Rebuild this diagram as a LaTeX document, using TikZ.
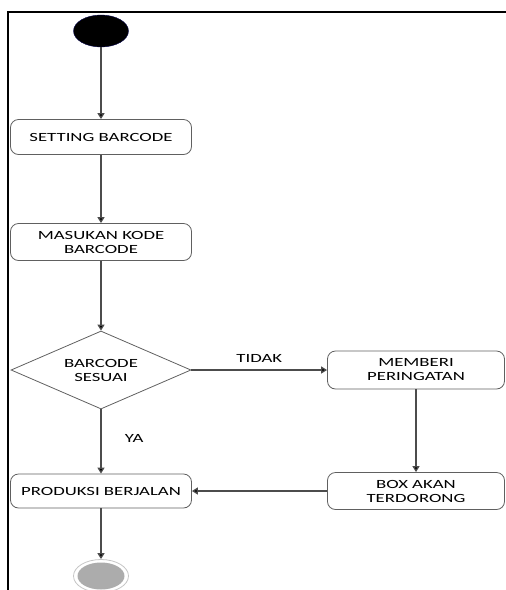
\documentclass[tikz,border=0pt]{standalone}
\usepackage{fontspec}
\usetikzlibrary{shapes.geometric,arrows.meta}
\newfontfamily\diagfont[FakeStretch=1.5]{Carlito}
\tikzset{
  act/.style={draw=gray!75!black, line width=0.8pt, rounded corners=8pt, minimum width=181pt, minimum height=35pt,
    align=center, font=\diagfont\fontsize{12.5}{14}\selectfont, inner sep=2pt},
  keputusan/.style={diamond, aspect=2.3, draw=gray!75!black, line width=0.8pt, minimum width=180pt, minimum height=78pt,
    align=center, font=\diagfont\fontsize{12.5}{14}\selectfont, inner sep=0pt},
  alur/.style={draw=gray!60!black, line width=1.2pt, -{Triangle[length=6pt,width=7pt,fill=black]}},
  teks/.style={font=\diagfont\fontsize{12.5}{14}\selectfont}
}
\begin{document}
\begin{tikzpicture}[x=1pt, y=-1pt]
    \useasboundingbox (0,0) rectangle (506,590);
    % bingkai
    \draw[line width=2pt] (506,12) -- (8,12) -- (8,590);

    % simpul awal dan akhir
    \node[ellipse, fill=black, draw=blue!30!black, minimum width=55pt, minimum height=32pt] (mulai) at (101,31) {};
    \node[ellipse, fill=white, draw=gray!45, line width=0.8pt, minimum width=55pt, minimum height=33pt] (selesai) at (101,576) {};
    \fill[gray!65] (selesai.center) ellipse (23.5pt and 13.5pt);

    % aktivitas
    \node[act] (setting) at (101,137) {SETTING BARCODE};
    \node[act, minimum height=37pt] (masukan) at (101,242) {MASUKAN KODE\\BARCODE};
    \node[keputusan] (sesuai) at (101,370) {BARCODE\\SESUAI};
    \node[act, minimum width=177pt, minimum height=38pt] (memberi) at (416,370) {MEMBERI\\PERINGATAN};
    \node[act, minimum width=177pt, minimum height=37pt] (box) at (416,491) {BOX AKAN\\TERDORONG};
    \node[act, minimum height=34pt] (produksi) at (101,491) {PRODUKSI BERJALAN};

    % alur
    \draw[alur] (mulai) -- (setting);
    \draw[alur] (setting) -- (masukan);
    \draw[alur] (masukan) -- (sesuai);
    \draw[alur] (sesuai.east) -- node[teks, above=4pt] {TIDAK} (memberi.west);
    \draw[alur] (memberi) -- (box);
    \draw[alur] (box.west) -- (produksi.east);
    \draw[alur] (sesuai.south) -- node[teks, right=20pt, pos=0.45] {YA} (produksi.north);
    \draw[alur] (produksi) -- (selesai);
\end{tikzpicture}
\end{document}
